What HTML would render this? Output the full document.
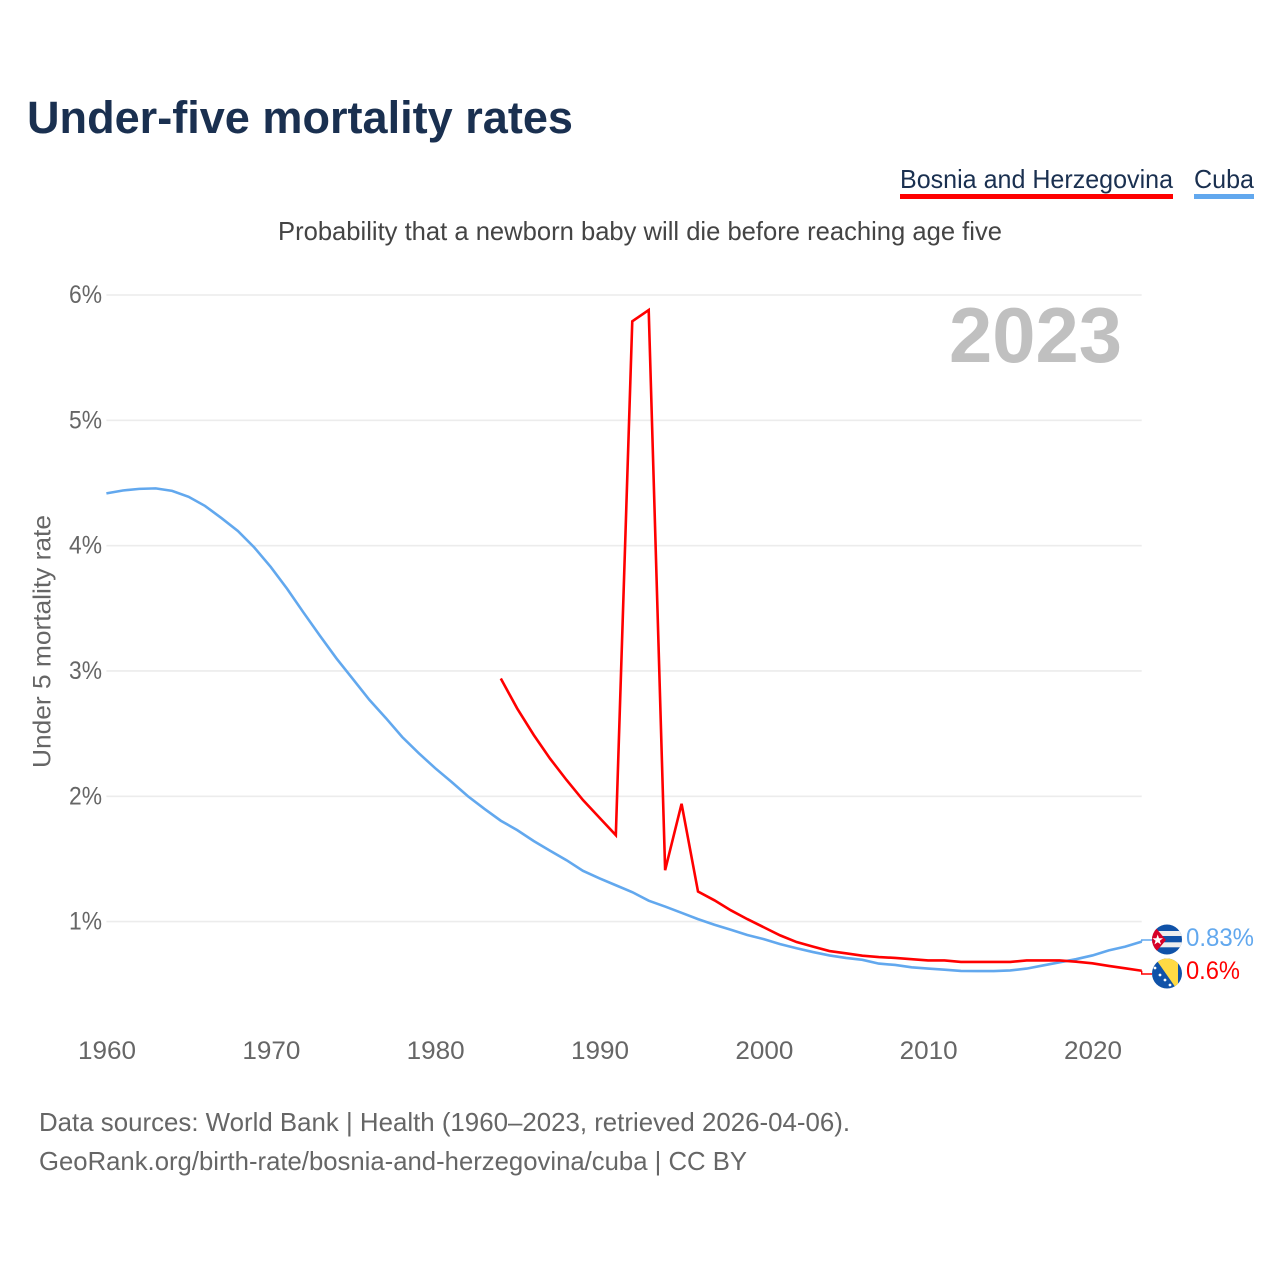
<!DOCTYPE html>
<html lang="en">
<head>
<meta charset="utf-8">
<title>Under-five mortality rates</title>
<style>
html,body{margin:0;padding:0;background:#fff;}
svg{display:block;}
text{font-family:"Liberation Sans",sans-serif;}
</style>
</head>
<body>
<svg id="chart" xmlns="http://www.w3.org/2000/svg" width="1280" height="1280" viewBox="0 0 1280 1280">
  <rect width="1280" height="1280" fill="#fff"/>
  <text x="27" y="133" font-size="45" font-weight="700" fill="#1a3050" textLength="546" lengthAdjust="spacingAndGlyphs">Under-five mortality rates</text>
  <g>
    <text x="900" y="188" font-size="26" fill="#1a3050" textLength="273" lengthAdjust="spacingAndGlyphs">Bosnia and Herzegovina</text>
    <rect x="900" y="194" width="273" height="5" fill="#ff0000"/>
    <text x="1194" y="188" font-size="26" fill="#1a3050" textLength="60" lengthAdjust="spacingAndGlyphs">Cuba</text>
    <rect x="1194" y="194" width="60" height="5" fill="#62a8ee"/>
  </g>
  <text x="278" y="240" font-size="26" fill="#444" textLength="724" lengthAdjust="spacingAndGlyphs">Probability that a newborn baby will die before reaching age five</text>
  <g id="grid"></g>
  <text x="949" y="362" font-size="78" font-weight="700" fill="#c0c0c0" textLength="173" lengthAdjust="spacingAndGlyphs">2023</text>
  <text transform="translate(50.5,768) rotate(-90)" font-size="25" fill="#666" textLength="253" lengthAdjust="spacingAndGlyphs">Under 5 mortality rate</text>
  <g id="yticks"></g>
  <g id="xticks"></g>
  <g id="series"></g>
  <defs>
    <clipPath id="clip-cuba"><circle cx="1167" cy="939.5" r="15"/></clipPath>
    <clipPath id="clip-bosnia"><circle cx="1167" cy="973.5" r="15"/></clipPath>
  </defs>
  <g clip-path="url(#clip-cuba)">
    <rect x="1152" y="924" width="30" height="31" fill="#1052a8"/>
    <rect x="1152" y="931" width="30" height="5" fill="#eeeeee"/>
    <rect x="1152" y="942.3" width="30" height="5" fill="#eeeeee"/>
    <polygon points="1150,921 1166,940 1150,959" fill="#d80027"/>
    <polygon points="1157.7,934.5 1159,938.3 1163,938.3 1159.8,940.7 1161,944.5 1157.7,942.2 1154.4,944.5 1155.6,940.7 1152.4,938.3 1156.4,938.3" fill="#fff"/>
  </g>
  <g clip-path="url(#clip-bosnia)">
    <rect x="1152" y="958" width="30" height="31" fill="#1052a8"/>
    <polygon points="1154,956.5 1178,956.5 1178,991" fill="#ffda44"/>
    <g fill="#fff">
      <circle cx="1155" cy="968" r="1.4"/><circle cx="1160" cy="975" r="1.4"/><circle cx="1165" cy="980" r="1.4"/><circle cx="1170" cy="985" r="1.4"/>
    </g>
  </g>
  <text x="39" y="1131" font-size="26" fill="#666" textLength="811" lengthAdjust="spacingAndGlyphs">Data sources: World Bank | Health (1960–2023, retrieved 2026-04-06).</text>
  <text x="39" y="1170" font-size="26" fill="#666" textLength="708" lengthAdjust="spacingAndGlyphs">GeoRank.org/birth-rate/bosnia-and-herzegovina/cuba | CC BY</text>
</svg>
<script>
const yTickValues = [1, 2, 3, 4, 5, 6];
const xTickYears = [1960, 1970, 1980, 1990, 2000, 2010, 2020];
const cubaStartYear = 1960;
const cubaValues = [4.417,4.44,4.453,4.457,4.437,4.39,4.317,4.22,4.117,3.985,3.83,3.655,3.465,3.28,3.1,2.935,2.77,2.625,2.473,2.345,2.225,2.115,2.0,1.9,1.805,1.73,1.643,1.565,1.49,1.405,1.345,1.29,1.235,1.167,1.12,1.07,1.02,0.975,0.935,0.893,0.86,0.82,0.787,0.757,0.73,0.71,0.695,0.665,0.654,0.635,0.625,0.616,0.606,0.605,0.605,0.61,0.625,0.65,0.675,0.70,0.73,0.77,0.80,0.84];
const bosniaStartYear = 1984;
const bosniaValues = [2.94,2.70,2.49,2.30,2.13,1.97,1.83,1.69,5.79,5.88,1.41,1.94,1.24,1.17,1.09,1.02,0.955,0.89,0.837,0.80,0.765,0.747,0.728,0.717,0.71,0.70,0.69,0.69,0.678,0.678,0.678,0.678,0.69,0.69,0.69,0.68,0.667,0.646,0.627,0.608];
const cubaEndLabel = "0.83%";
const bosniaEndLabel = "0.6%";

const NS = "http://www.w3.org/2000/svg";
function xScale(year) { return 106.4 + (year - 1960) * (1141.7 - 106.4) / 63; }
function yScale(v) { return 921.6 - (v - 1) * 125.32; }
function pointsFrom(start, values) {
  return values.map(function (v, i) { return xScale(start + i).toFixed(2) + "," + yScale(v).toFixed(2); }).join(" ");
}

const gridG = document.getElementById("grid");
const yG = document.getElementById("yticks");
yTickValues.forEach(function (v) {
  const line = document.createElementNS(NS, "line");
  
  
  line.setAttribute("x1", xScale(1960));
  line.setAttribute("x2", xScale(2023));
  line.setAttribute("y1", yScale(v));
  line.setAttribute("y2", yScale(v));
  line.setAttribute("stroke", "#ececec");
  line.setAttribute("stroke-width", "1.6");
  gridG.appendChild(line);

  const t = document.createElementNS(NS, "text");
  
  
  t.setAttribute("x", 102);
  t.setAttribute("y", yScale(v) + 8);
  t.setAttribute("text-anchor", "end");
  t.setAttribute("font-size", "25");
  t.setAttribute("fill", "#666");
  t.setAttribute("textLength", "33");
  t.setAttribute("lengthAdjust", "spacingAndGlyphs");
  t.textContent = v + "%";
  yG.appendChild(t);
});

const xG = document.getElementById("xticks");
xTickYears.forEach(function (yr) {
  const t = document.createElementNS(NS, "text");
  
  
  t.setAttribute("x", xScale(yr) + 0.6);
  t.setAttribute("y", 1059);
  t.setAttribute("text-anchor", "middle");
  t.setAttribute("font-size", "25");
  t.setAttribute("fill", "#666");
  t.setAttribute("textLength", "58");
  t.setAttribute("lengthAdjust", "spacingAndGlyphs");
  t.textContent = yr;
  xG.appendChild(t);
});

const seriesG = document.getElementById("series");

const cubaLine = document.createElementNS(NS, "polyline");


cubaLine.setAttribute("points", pointsFrom(cubaStartYear, cubaValues));
cubaLine.setAttribute("fill", "none");
cubaLine.setAttribute("stroke", "#62a8ee");
cubaLine.setAttribute("stroke-width", "2.6");
seriesG.appendChild(cubaLine);

const bosniaLine = document.createElementNS(NS, "polyline");


bosniaLine.setAttribute("points", pointsFrom(bosniaStartYear, bosniaValues));
bosniaLine.setAttribute("fill", "none");
bosniaLine.setAttribute("stroke", "#ff0000");
bosniaLine.setAttribute("stroke-width", "2.6");
seriesG.appendChild(bosniaLine);

const endX = xScale(2023);
const cubaEndY = yScale(cubaValues[cubaValues.length - 1]);
const bosniaEndY = yScale(bosniaValues[bosniaValues.length - 1]);

const cubaConn = document.createElementNS(NS, "polyline");


cubaConn.setAttribute("points", endX + "," + cubaEndY + " " + endX + ",940 1152,940");
cubaConn.setAttribute("fill", "none");
cubaConn.setAttribute("stroke", "#62a8ee");
cubaConn.setAttribute("stroke-width", "1.4");
seriesG.appendChild(cubaConn);

const bosniaConn = document.createElementNS(NS, "polyline");


bosniaConn.setAttribute("points", endX + "," + bosniaEndY + " " + endX + ",974 1152,974");
bosniaConn.setAttribute("fill", "none");
bosniaConn.setAttribute("stroke", "#ff0000");
bosniaConn.setAttribute("stroke-width", "1.4");
seriesG.appendChild(bosniaConn);

const cubaLabel = document.createElementNS(NS, "text");


cubaLabel.setAttribute("x", 1186);
cubaLabel.setAttribute("y", 946);
cubaLabel.setAttribute("font-size", "25");
cubaLabel.setAttribute("fill", "#62a8ee");
cubaLabel.setAttribute("textLength", "68");
cubaLabel.setAttribute("lengthAdjust", "spacingAndGlyphs");
cubaLabel.textContent = cubaEndLabel;
seriesG.appendChild(cubaLabel);

const bosniaLabel = document.createElementNS(NS, "text");


bosniaLabel.setAttribute("x", 1186);
bosniaLabel.setAttribute("y", 979);
bosniaLabel.setAttribute("font-size", "25");
bosniaLabel.setAttribute("fill", "#ff0000");
bosniaLabel.setAttribute("textLength", "54");
bosniaLabel.setAttribute("lengthAdjust", "spacingAndGlyphs");
bosniaLabel.textContent = bosniaEndLabel;
seriesG.appendChild(bosniaLabel);
</script>
</body>
</html>
